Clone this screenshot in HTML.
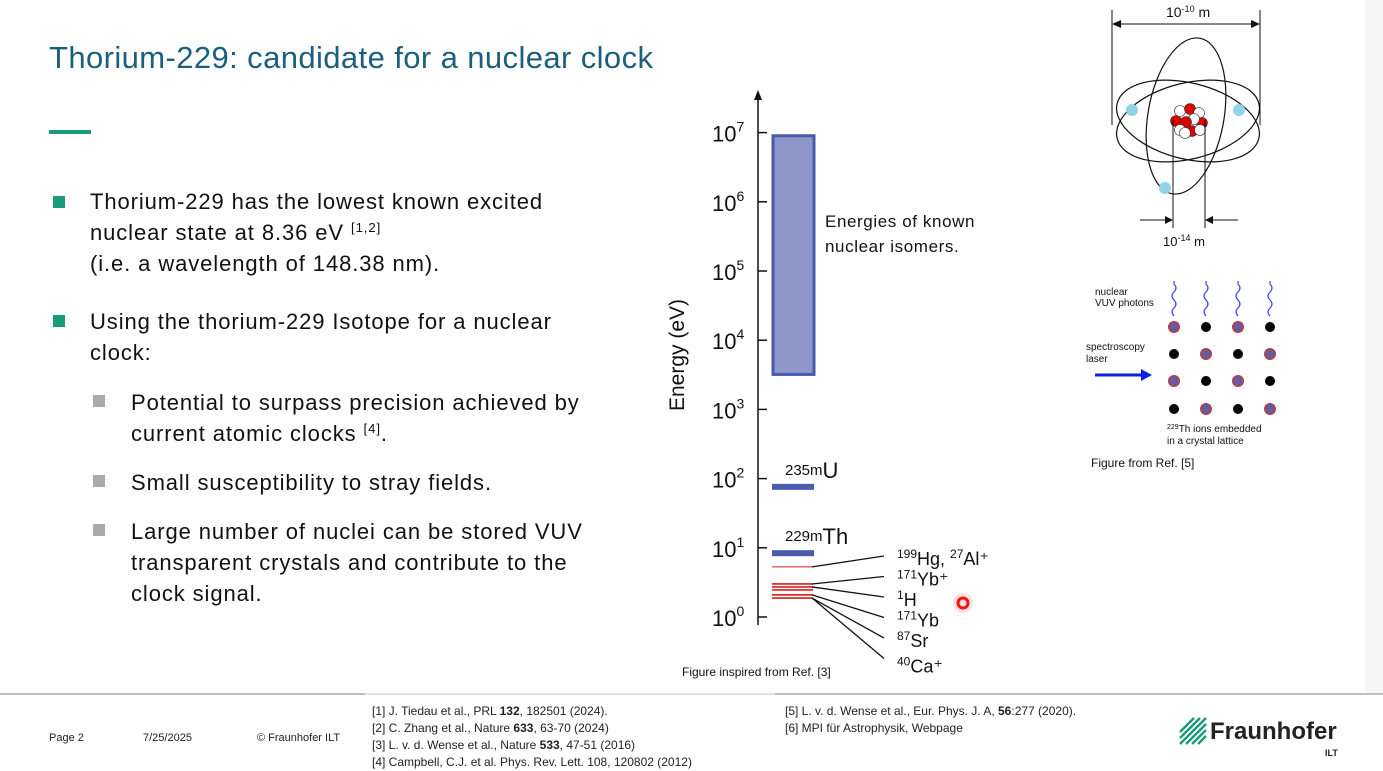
<!DOCTYPE html>
<html><head><meta charset="utf-8"><style>
body{margin:0;width:1383px;height:770px;overflow:hidden;background:#fff;font-family:"Liberation Sans",sans-serif;position:relative}
.abs{position:absolute}
.title{left:49px;top:40px;font-size:31px;color:#1b5f7c;letter-spacing:0.4px;white-space:nowrap}
.txt{font-size:22px;color:#111;line-height:31px;letter-spacing:0.9px;white-space:nowrap}
.sq{width:12px;height:12px}
sup{font-size:60%;line-height:0;vertical-align:8px}
.ft{font-size:11px;color:#222}
</style></head><body>
<div class="abs title">Thorium-229: candidate for a nuclear clock</div>
<div class="abs" style="left:49px;top:130px;width:42px;height:4px;background:#1a9b7b"></div>

<div class="abs sq" style="left:53px;top:196px;background:#1a9b7b"></div>
<div class="abs txt" style="left:90px;top:186px">Thorium-229 has the lowest known excited<br>nuclear state at 8.36 eV <sup>[1,2]</sup><br>(i.e. a wavelength of 148.38 nm).</div>
<div class="abs sq" style="left:53px;top:315px;background:#1a9b7b"></div>
<div class="abs txt" style="left:90px;top:306px">Using the thorium-229 Isotope for a nuclear<br>clock:</div>
<div class="abs sq" style="left:93px;top:395px;background:#aaa"></div>
<div class="abs txt" style="left:131px;top:387px">Potential to surpass precision achieved by<br>current atomic clocks <sup>[4]</sup>.</div>
<div class="abs sq" style="left:93px;top:475px;background:#aaa"></div>
<div class="abs txt" style="left:131px;top:467px">Small susceptibility to stray fields.</div>
<div class="abs sq" style="left:93px;top:524px;background:#aaa"></div>
<div class="abs txt" style="left:131px;top:516px">Large number of nuclei can be stored VUV<br>transparent crystals and contribute to the<br>clock signal.</div>

<svg class="abs" style="left:0;top:0" width="1383" height="770" id="chart"></svg>

<!-- footer -->
<div class="abs" style="left:0;top:693px;width:1383px;height:2px;background:#b9c3cc"></div>
<div class="abs" style="left:365px;top:693px;width:410px;height:2px;background:#dde3e8"></div>
<div class="abs ft" style="left:49px;top:732px">Page 2</div>
<div class="abs ft" style="left:143px;top:732px">7/25/2025</div>
<div class="abs ft" style="left:257px;top:732px">© Fraunhofer ILT</div>
<div class="abs ft" style="left:372px;top:703px;line-height:17px;font-size:12px">[1] J. Tiedau et al., PRL <b>132</b>, 182501 (2024).<br>[2] C. Zhang et al., Nature <b>633</b>, 63-70 (2024)<br>[3] L. v. d. Wense et al., Nature <b>533</b>, 47-51 (2016)<br>[4] Campbell, C.J. et al. Phys. Rev. Lett. 108, 120802 (2012)</div>
<div class="abs ft" style="left:785px;top:703px;line-height:17px;font-size:12px">[5] L. v. d. Wense et al., Eur. Phys. J. A, <b>56</b>:277 (2020).<br>[6] MPI für Astrophysik, Webpage</div>
<div class="abs" style="left:1178px;top:716px">
<svg width="30" height="30"><g stroke="#1a9b7b" stroke-width="2.5"><line x1="2" y1="28" x2="28" y2="2"/><line x1="2" y1="22" x2="22" y2="2"/><line x1="2" y1="16" x2="16" y2="2"/><line x1="8" y1="28" x2="28" y2="8"/><line x1="14" y1="28" x2="28" y2="14"/><line x1="20" y1="28" x2="28" y2="20"/></g></svg>
<span class="abs" style="left:32px;top:2px;font-size:24px;font-weight:bold;color:#222">Fraunhofer</span>
<span class="abs" style="left:147px;top:32px;font-size:9px;font-weight:bold;color:#222">ILT</span>
</div>
<div class="abs" style="left:1365px;top:0;width:18px;height:693px;background:#f5f5f5"></div>

<script>
const tickExps=[0,1,2,3,4,5,6,7];
const isomerBandEv=[3200,9000000];
const uEnergy=76;
const thEnergy=8.36;
const atomicLevels=[5.3,3.0,2.72,2.46,2.09,1.88];
const clockLabels=[["199","Hg, ","27","Al⁺"],["171","Yb⁺"],["1","H"],["171","Yb"],["87","Sr"],["40","Ca⁺"]];
const labelSource=[0,1,2,4,5,5];

const NS="http://www.w3.org/2000/svg";
const svg=document.getElementById('chart');
const axX=758,y0=617,dec=69.2;
const yE=e=>y0-Math.log10(e)*dec;
function mk(tag,attrs,parent){const el=document.createElementNS(NS,tag);for(const k in attrs)el.setAttribute(k,attrs[k]);(parent||svg).appendChild(el);return el;}
function txt(x,y,s,size,parent,anchor){const t=mk('text',{x:x,y:y,'font-size':size,'font-family':'Liberation Sans, sans-serif',fill:'#111'},parent);if(anchor)t.setAttribute('text-anchor',anchor);t.textContent=s;return t;}

const ax=mk('line',{x1:axX,y1:y0+8,x2:axX,y2:96,stroke:'#111','stroke-width':1.5});


const ar=mk('path',{d:`M${axX-4} 100 L${axX} 90 L${axX+4} 100 Z`,fill:'#111'});


tickExps.forEach(e=>{
  const y=y0-e*dec;
  const tk=mk('line',{x1:axX,y1:y,x2:axX+9,y2:y,stroke:'#111','stroke-width':1.5});
  
  
  const t=mk('text',{x:712,y:y+9,'font-size':22,'font-family':'Liberation Sans, sans-serif',fill:'#111'});
  
  
  t.textContent='10';
  const s=mk('tspan',{dy:-10,'font-size':14},t);s.textContent=String(e);
});
const yt=txt(0,0,'Energy (eV)',21);
yt.setAttribute('transform','translate(684,355) rotate(-90)');
yt.setAttribute('text-anchor','middle');



const by1=yE(isomerBandEv[1]),by2=yE(isomerBandEv[0]);
const band=mk('rect',{x:773,y:by1,width:41,height:by2-by1,fill:'#8f96c9',stroke:'#4a5bab','stroke-width':3});


const bl=txt(825,227,'Energies of known',17);


bl.setAttribute('letter-spacing','0.6');
const bl2=txt(825,252,'nuclear isomers.',17);
bl2.setAttribute('letter-spacing','0.6');

function level(e,name,label){
  const y=yE(e);
  const r=mk('rect',{x:772,y:y-3,width:42,height:6,fill:'#4a5bab'});
  
  
  const t=mk('text',{x:785,y:y-9,'font-size':15,'font-family':'Liberation Sans, sans-serif',fill:'#111'});
  
  
  const a=mk('tspan',{dy:-3},t);a.textContent=label[0];
  const s=mk('tspan',{'font-size':22,dy:3},t);s.textContent=label[1];
}
level(uEnergy,'u235m-level',['235m','U']);
level(thEnergy,'th229m-level',['229m','Th']);

atomicLevels.forEach((e,i)=>{
  const y=yE(e);
  const l=mk('line',{x1:772,y1:y,x2:813,y2:y,stroke:'#d42020','stroke-width':i==0?1:1.6});
  
  
});
clockLabels.forEach((lab,i)=>{
  const ly=556+i*20.5;
  const sy=yE(atomicLevels[labelSource[i]]);
  const l=mk('line',{x1:812,y1:sy,x2:884,y2:ly,stroke:'#111','stroke-width':1.3});
  
  
  const t=mk('text',{x:897,y:ly+9+(i==5?5:0),'font-size':18,'font-family':'Liberation Sans, sans-serif',fill:'#111'});
  
  
  for(let k=0;k<lab.length;k++){const s=mk('tspan',k%2==0?{'font-size':12,dy:-7}:{'font-size':18,dy:7},t);s.textContent=lab[k];}
});
const cap=txt(682,676,'Figure inspired from Ref. [3]',12);


const dot=mk('circle',{cx:963,cy:603,r:5,fill:'none',stroke:'#f01818','stroke-width':3});


mk('circle',{cx:963,cy:603,r:10,fill:'rgba(255,0,0,0.12)'});

// atom figure
const g=mk('g',{});


mk('line',{x1:1112,y1:10,x2:1112,y2:125,stroke:'#111'},g);
mk('line',{x1:1260,y1:10,x2:1260,y2:125,stroke:'#111'},g);
mk('line',{x1:1116,y1:24,x2:1256,y2:24,stroke:'#111'},g);
mk('path',{d:'M1112 24 l9 -4 v8 Z M1260 24 l-9 -4 v8 Z',fill:'#111'},g);
const tt=txt(1166,17,'10',14,g);const ts=mk('tspan',{'font-size':9,dy:-5},tt);ts.textContent='-10';const tm=mk('tspan',{dy:5},tt);tm.textContent=' m';
mk('ellipse',{cx:1188,cy:121,rx:73,ry:38,fill:'none',stroke:'#111','stroke-width':1.2,transform:'rotate(14 1188 121)'},g);
mk('ellipse',{cx:1188,cy:121,rx:73,ry:38,fill:'none',stroke:'#111','stroke-width':1.2,transform:'rotate(-14 1188 121)'},g);
mk('ellipse',{cx:1186,cy:116,rx:38,ry:79,fill:'none',stroke:'#111','stroke-width':1.2,transform:'rotate(10 1186 116)'},g);
[[1132,110],[1239,110],[1165,188]].forEach(p=>mk('circle',{cx:p[0],cy:p[1],r:6,fill:'#8fd4e8'},g));
[[1180,111,'#fff'],[1190,109,'#d00'],[1199,113,'#fff'],[1176,121,'#d00'],[1202,123,'#d00'],[1194,119,'#fff'],[1186,122,'#d00'],[1180,130,'#fff'],[1192,131,'#d00'],[1200,130,'#fff'],[1185,133,'#fff']].forEach(p=>mk('circle',{cx:p[0],cy:p[1],r:5.5,fill:p[2],stroke:'#333','stroke-width':0.6},g));
mk('line',{x1:1173,y1:120,x2:1173,y2:228,stroke:'#111'},g);
mk('line',{x1:1205,y1:120,x2:1205,y2:228,stroke:'#111'},g);
mk('line',{x1:1140,y1:220,x2:1170,y2:220,stroke:'#111'},g);
mk('line',{x1:1208,y1:220,x2:1238,y2:220,stroke:'#111'},g);
mk('path',{d:'M1173 220 l-8 -4 v8 Z M1205 220 l8 -4 v8 Z',fill:'#111'},g);
const t2=txt(1163,246,'10',13,g);const t2s=mk('tspan',{'font-size':9,dy:-5},t2);t2s.textContent='-14';const t2m=mk('tspan',{dy:5},t2);t2m.textContent=' m';

const lg=mk('g',{});


txt(1095,295,'nuclear',10,lg);txt(1095,306,'VUV photons',10,lg);
txt(1086,350,'spectroscopy',10,lg);txt(1086,362,'laser',10,lg);
mk('line',{x1:1095,y1:375,x2:1143,y2:375,stroke:'#1020e0','stroke-width':3},lg);
mk('path',{d:'M1152 375 l-11 -6 v12 Z',fill:'#1020e0'},lg);
const cols=[1174,1206,1238,1270],rows=[327,354,381,409];
const pattern=[[1,0,1,0],[0,1,0,1],[1,0,1,0],[0,1,0,1]];
cols.forEach(x=>mk('path',{d:`M${x} 316 q-4 -4 0 -8 q4 -4 0 -8 q-4 -4 0 -8 q4 -4 0 -8 l0 -3`,fill:'none',stroke:'#4040ee','stroke-width':1.2},lg));
rows.forEach((y,r)=>cols.forEach((x,c)=>{
  if(pattern[r][c])mk('circle',{cx:x,cy:y,r:5.5,fill:'#6a5a9a',stroke:'#c33','stroke-width':1},lg);
  else mk('circle',{cx:x,cy:y,r:5,fill:'#000'},lg);
}));
const l1=txt(1167,432,'',10,lg);const l1s=mk('tspan',{'font-size':7,dy:-3},l1);l1s.textContent='229';const l1t=mk('tspan',{dy:3},l1);l1t.textContent='Th ions embedded';
txt(1167,444,'in a crystal lattice',10,lg);
const fc=txt(1091,467,'Figure from Ref. [5]',12,lg);
</script>
</body></html>
